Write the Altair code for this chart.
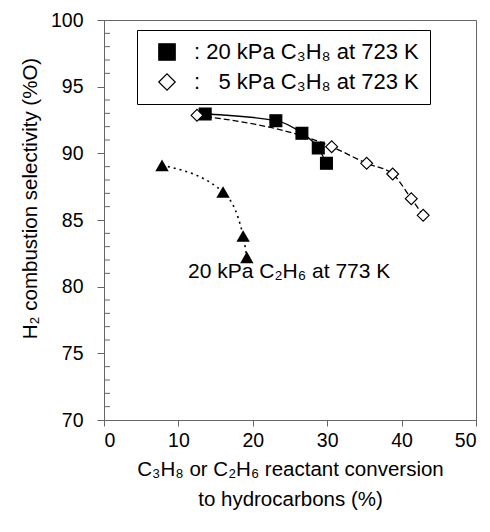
import altair as alt
import pandas as pd

# ---- data ----
series = [": 20 kPa C₃H₈ at 723 K", ":\u00a0\u00a0\u00a05 kPa C₃H₈ at 723 K"]
sq_x = [13.6, 23.1, 26.6, 28.8, 29.9]
sq_y = [92.95, 92.45, 91.5, 90.4, 89.25]
di_x = [12.5, 30.6, 35.3, 38.8, 41.3, 42.9]
di_y = [92.85, 90.5, 89.25, 88.45, 86.6, 85.35]
tri_x = [7.8, 16.0, 18.7, 19.2]
tri_y = [89.1, 87.1, 83.8, 82.2]
note_label = ["20 kPa C₂H₆ at 773 K"]
note_x = [11.3]
note_y = [81.1]
x_ticks = [0, 10, 20, 30, 40, 50]
y_ticks = [70, 75, 80, 85, 90, 95, 100]
y_minor = [v for v in range(71, 100) if v % 5 != 0]
x_title = ["C₃H₈ or C₂H₆ reactant conversion", "to hydrocarbons (%)"]
y_title = "H₂ combustion selectivity (%O)"

FONT = "Liberation Sans"
AX = "#666666"

df = pd.DataFrame({
    "x": sq_x + di_x,
    "y": sq_y + di_y,
    "s": [series[0]] * len(sq_x) + [series[1]] * len(di_x),
})
df_t = pd.DataFrame({"x": tri_x, "y": tri_y})
df_note = pd.DataFrame({"x": note_x, "y": note_y, "t": note_label})
df_minor = pd.DataFrame({"y": y_minor})

xs = alt.Scale(domain=[0, 50], nice=False, zero=False)
ys = alt.Scale(domain=[70, 100], nice=False, zero=False)

X = alt.X("x:Q", scale=xs, axis=alt.Axis(
    values=x_ticks, title=x_title, tickSize=6, labelPadding=5,
    titleY=55, titleBaseline="alphabetic", titleLineHeight=30))
Y = alt.Y("y:Q", scale=ys, axis=alt.Axis(
    values=y_ticks, title=y_title, tickSize=7, labelPadding=14,
    titleX=-68, titleY=178, titleAngle=270, titleAlign="center",
    titleBaseline="alphabetic"))

base = alt.Chart(df)

line_sq = base.transform_filter(alt.datum.s == series[0]).mark_line(
    color="black", strokeWidth=1.3, interpolate="monotone"
).encode(x=X, y=Y)

line_di = base.transform_filter(alt.datum.s == series[1]).mark_line(
    color="black", strokeWidth=1.3, strokeDash=[6, 3], interpolate="monotone"
).encode(x="x:Q", y="y:Q")

leg = alt.Legend(title=None)
pts = base.mark_point(filled=True, strokeWidth=1.2, size=140, opacity=1).encode(
    x="x:Q", y="y:Q",
    shape=alt.Shape("s:N", scale=alt.Scale(domain=series, range=["square", "diamond"]),
                    legend=leg),
    fill=alt.Fill("s:N", scale=alt.Scale(domain=series, range=["black", "white"]),
                  legend=leg),
    stroke=alt.Stroke("s:N", scale=alt.Scale(domain=series, range=["black", "black"]),
                      legend=leg),
)

tri = alt.Chart(df_t)
line_tri = tri.mark_line(color="black", strokeWidth=1.6, strokeDash=[2, 4],
                         interpolate="monotone").encode(x="x:Q", y="y:Q")
pts_tri = tri.mark_point(shape="triangle-up", filled=True, fill="black",
                         opacity=1, size=180).encode(x="x:Q", y="y:Q")

note = alt.Chart(df_note).mark_text(
    align="left", baseline="middle", font=FONT, fontSize=21, color="black"
).encode(x="x:Q", y="y:Q", text="t:N")

minor = alt.Chart(df_minor).mark_rule(color=AX, strokeWidth=1).encode(
    y="y:Q", x=alt.value(0), x2=alt.value(6))

chart = alt.layer(minor, line_sq, line_di, line_tri, pts, pts_tri, note).properties(
    width=372, height=400,
    padding={"left": 96, "top": 12, "right": 6, "bottom": 104},
    autosize=alt.AutoSizeParams(type="none"),
).configure_view(
    stroke=AX, strokeWidth=1
).configure_axis(
    grid=False, domainColor=AX, tickColor=AX, labelColor="black",
    labelFont=FONT, labelFontSize=19.5, titleFont=FONT, titleFontSize=20.5,
    titleFontWeight="normal", titleColor="black",
).configure_legend(
    orient="none", legendX=33, legendY=10, strokeColor="black",
    fillColor="white", padding=11, labelFont=FONT, labelFontSize=22,
    labelColor="black", symbolSize=270, symbolStrokeWidth=1.2,
    symbolOffset=8, labelOffset=16, rowPadding=8, labelLimit=400,
)

chart.save("out.html", embed_options={"renderer": "svg", "actions": False})
